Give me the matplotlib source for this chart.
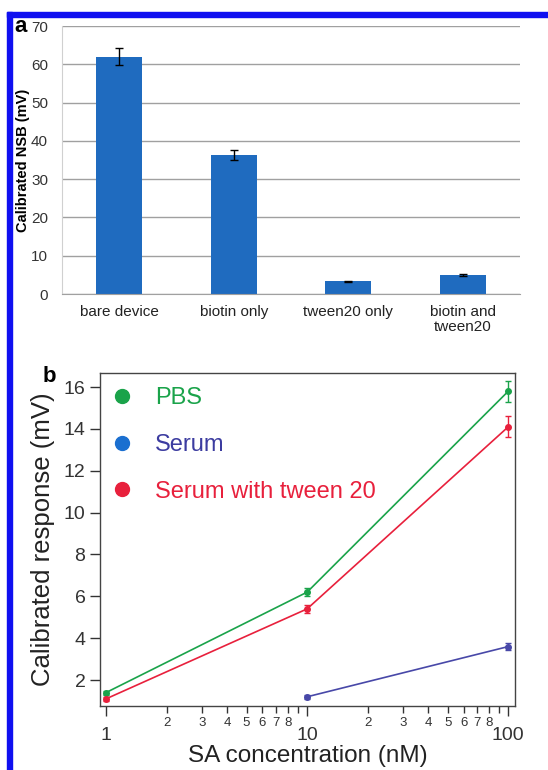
import numpy as np
import matplotlib.pyplot as plt
from matplotlib.lines import Line2D
from matplotlib.patches import Rectangle
from matplotlib.ticker import LogLocator, FuncFormatter

plt.rcParams['font.family'] = ['Liberation Sans', 'DejaVu Sans']

# panel a data
categories = ['bare device', 'biotin only', 'tween20 only', 'biotin and\ntween20']
nsb = [62.0, 36.3, 3.3, 5.0]
nsb_err = [2.3, 1.2, 0.2, 0.3]

# panel b data
conc_pbs = [1, 10, 100]
resp_pbs = [1.4, 6.2, 15.8]
err_pbs = [0.1, 0.2, 0.5]
conc_serum = [10, 100]
resp_serum = [1.2, 3.6]
err_serum = [0.1, 0.15]
conc_tween = [1, 10, 100]
resp_tween = [1.1, 5.4, 14.1]
err_tween = [0.1, 0.2, 0.5]

W, H = 548, 770
fig = plt.figure(figsize=(W / 100, H / 100), dpi=100)

# blue frame
fig.patches.append(Rectangle((7 / W, 0), 5 / W, 1 - 12 / H, transform=fig.transFigure,
                             color='#1010f0', zorder=0))
fig.patches.append(Rectangle((7 / W, 1 - 17 / H), 1 - 7 / W, 5 / H, transform=fig.transFigure,
                             color='#1010f0', zorder=0))

# ---- panel a ----
ax1 = fig.add_axes([62 / W, 1 - 294 / H, (520 - 62) / W, (294 - 26) / H])
x = np.arange(len(categories))
ax1.bar(x, nsb, width=0.4, color='#1f6bbf', zorder=2)
ax1.errorbar(x, nsb, yerr=nsb_err, fmt='none', ecolor='black', elinewidth=1,
             capsize=3, capthick=1, zorder=3)
ax1.set_ylim(0, 70)
ax1.set_xlim(-0.5, 3.5)
ax1.set_yticks(range(0, 71, 10))
ax1.yaxis.grid(True, color='#a0a0a0', linewidth=1)
ax1.set_axisbelow(True)
for s in ['top', 'right']:
    ax1.spines[s].set_visible(False)
ax1.spines['left'].set_color('#d0d0d0')
ax1.spines['bottom'].set_color('#a0a0a0')
ax1.tick_params(axis='y', length=0, labelsize=11, colors='#333333', pad=10)
ax1.tick_params(axis='x', length=0, labelsize=11, colors='#222222', pad=8)
ax1.set_xticks(x)
ax1.set_xticklabels(categories, linespacing=1.1)
ax1.set_ylabel('Calibrated NSB (mV)', fontsize=10.5, fontweight='bold', labelpad=1)
fig.text(14 / W, 1 - 27 / H, 'a', fontsize=16, fontweight='bold', va='center')

# ---- panel b ----
ax2 = fig.add_axes([100 / W, 1 - 706 / H, (515 - 100) / W, (706 - 373) / H])
green = '#1aa34a'
purple = '#4848a8'
red = '#e8203c'
ax2.errorbar(conc_pbs, resp_pbs, yerr=err_pbs, color=green, marker='o', markersize=4,
             linewidth=1.2, capsize=2.5, elinewidth=1)
ax2.errorbar(conc_serum, resp_serum, yerr=err_serum, color=purple, marker='o', markersize=4,
             linewidth=1.2, capsize=2.5, elinewidth=1)
ax2.errorbar(conc_tween, resp_tween, yerr=err_tween, color=red, marker='o', markersize=4,
             linewidth=1.2, capsize=2.5, elinewidth=1)
ax2.set_xscale('log')
ax2.set_xlim(0.934, 108)
ax2.set_ylim(0.76, 16.67)
ax2.set_yticks(range(2, 17, 2))
ax2.xaxis.set_major_locator(LogLocator(base=10, numticks=5))
ax2.xaxis.set_major_formatter(FuncFormatter(lambda v, p: '%d' % v))
ax2.xaxis.set_minor_locator(LogLocator(base=10, subs=range(2, 10), numticks=5))


def minor_label(v, p):
    d = int(round(v / 10 ** np.floor(np.log10(v) + 1e-9)))
    return '' if d == 9 else '%d' % d


ax2.xaxis.set_minor_formatter(FuncFormatter(minor_label))
ax2.tick_params(axis='x', which='major', direction='out', length=7, width=1,
                labelsize=14, pad=8, colors='#333333')
ax2.tick_params(axis='x', which='minor', direction='out', length=5, width=1,
                labelsize=9.5, pad=3, colors='#333333')
ax2.tick_params(axis='y', direction='out', length=7, width=1, labelsize=14, colors='#333333')
for s in ax2.spines.values():
    s.set_color('#444444')
    s.set_linewidth(1)
ax2.set_ylabel('Calibrated response (mV)', fontsize=18.5, labelpad=6, color='#222222')
ax2.set_xlabel('SA concentration (nM)', fontsize=17.5, labelpad=1, color='#222222')
fig.text(43 / W, 1 - 377 / H, 'b', fontsize=16, fontweight='bold', va='center')

handles = [Line2D([], [], linestyle='none', marker='o', markersize=10, color=green),
           Line2D([], [], linestyle='none', marker='o', markersize=10, color='#1a6fd0'),
           Line2D([], [], linestyle='none', marker='o', markersize=10, color=red)]
ax2.legend(handles, ['PBS', 'Serum', 'Serum with tween 20'], loc='upper left',
           frameon=False, fontsize=17, handlelength=1.0, handletextpad=0.9,
           labelspacing=1.05, labelcolor=[green, '#3c3ca0', red],
           bbox_to_anchor=(-0.01, 1.0), borderaxespad=0.2)

fig.savefig('out.png', dpi=100)
